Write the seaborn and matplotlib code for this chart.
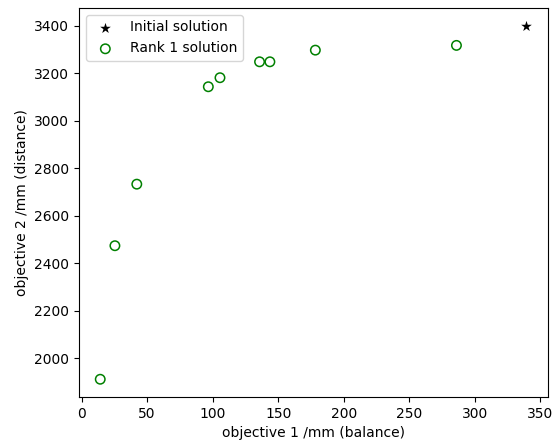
import matplotlib
matplotlib.use("Agg")
import matplotlib.pyplot as plt
import seaborn as sns

# initial solution
init_obj1 = [339.4]
init_obj2 = [3400]

# rank 1 solutions
rank1_obj1 = [14.2, 25.4, 42.1, 96.7, 105.6, 135.8, 143.7, 178.4, 286.1]
rank1_obj2 = [1912, 2474, 2733, 3143, 3181, 3248, 3248, 3297, 3317]

fig, ax = plt.subplots(figsize=(5.52, 4.44), dpi=100)

sns.scatterplot(x=init_obj1, y=init_obj2, marker="*", color="black",
                edgecolor="black", linewidth=0, s=65, label="Initial solution", ax=ax)
sns.scatterplot(x=rank1_obj1, y=rank1_obj2, marker="o", facecolor="none",
                edgecolor="green", linewidth=1.1, s=46, label="Rank 1 solution", ax=ax)

ax.set_xlabel("objective 1 /mm (balance)")
ax.set_ylabel("objective 2 /mm (distance)")
ax.set_xticks([0, 50, 100, 150, 200, 250, 300, 350])
ax.legend(loc="upper left")

fig.subplots_adjust(left=0.143, right=0.992, top=0.982, bottom=0.106)
fig.savefig("out.png", dpi=100)
